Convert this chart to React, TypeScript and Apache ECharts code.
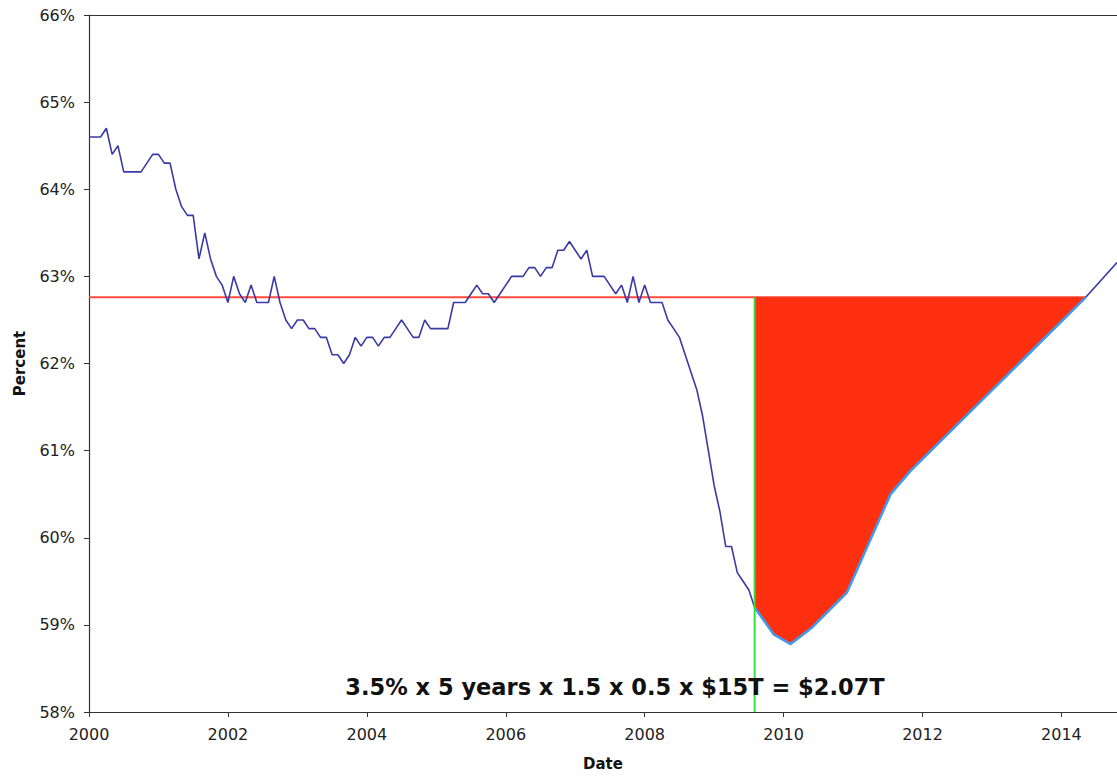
import React, { useEffect, useRef } from "react";
import * as echarts from "echarts";

// Monthly employment/population ratio, Jan 2000 .. Aug 2009 (percent)
const START_YEAR = 2000;
const actualValues = [
  64.6, 64.6, 64.6, 64.7, 64.4, 64.5, 64.2, 64.2, 64.2, 64.2, 64.3, 64.4,
  64.4, 64.3, 64.3, 64.0, 63.8, 63.7, 63.7, 63.2, 63.5, 63.2, 63.0, 62.9,
  62.7, 63.0, 62.8, 62.7, 62.9, 62.7, 62.7, 62.7, 63.0, 62.7, 62.5, 62.4,
  62.5, 62.5, 62.4, 62.4, 62.3, 62.3, 62.1, 62.1, 62.0, 62.1, 62.3, 62.2,
  62.3, 62.3, 62.2, 62.3, 62.3, 62.4, 62.5, 62.4, 62.3, 62.3, 62.5, 62.4,
  62.4, 62.4, 62.4, 62.7, 62.7, 62.7, 62.8, 62.9, 62.8, 62.8, 62.7, 62.8,
  62.9, 63.0, 63.0, 63.0, 63.1, 63.1, 63.0, 63.1, 63.1, 63.3, 63.3, 63.4,
  63.3, 63.2, 63.3, 63.0, 63.0, 63.0, 62.9, 62.8, 62.9, 62.7, 63.0, 62.7,
  62.9, 62.7, 62.7, 62.7, 62.5, 62.4, 62.3, 62.1, 61.9, 61.7, 61.4, 61.0,
  60.6, 60.3, 59.9, 59.9, 59.6, 59.5, 59.4, 59.2,
];

// Projected recovery path (decimal year, percent)
const projectionDates = [2009.583, 2009.86, 2010.1, 2010.41, 2010.91, 2011.54, 2011.83, 2014.35];
const projectionValues = [59.2, 58.89, 58.78, 58.97, 59.37, 60.5, 60.77, 62.76];
const tailDates = [2014.8];
const tailValues = [63.16];

const baselineValue = 62.76; // pre-recession level
const markerDate = 2009.583; // last observed month
const yTicks = { min: 58, max: 66, interval: 1 };
const xRange = { min: 2000, max: 2014.8, interval: 2 };
const annotation = "3.5% x 5 years x 1.5 x 0.5 x $15T = $2.07T";

const FONT = "'DejaVu Sans', Verdana, sans-serif";

export default function App() {
  const ref = useRef<HTMLDivElement>(null);

  useEffect(() => {
    if (!ref.current) return;
    const chart = echarts.init(ref.current, undefined, { renderer: "svg" });

    const actual = actualValues.map((v, i) => [START_YEAR + i / 12, v]);
    const projection = projectionDates.map((d, i) => [d, projectionValues[i]]);
    const tail = tailDates.map((d, i) => [d, tailValues[i]]);
    const navy = [...actual, ...projection.slice(1), ...tail];

    chart.setOption({
      animation: false,
      backgroundColor: "#ffffff",
      grid: { left: 89, right: 0, top: 15, bottom: 64, containLabel: false },
      xAxis: [
        {
          type: "value",
          min: xRange.min,
          max: xRange.max,
          interval: xRange.interval,
          name: "Date",
          nameLocation: "middle",
          nameGap: 44,
          nameTextStyle: { fontFamily: FONT, fontWeight: "bold", fontSize: 15, color: "#111" },
          axisLine: { show: true, lineStyle: { color: "#333", width: 1.2 } },
          axisTick: { show: true, length: 5, inside: false, lineStyle: { color: "#333" } },
          axisLabel: {
            fontFamily: FONT,
            fontSize: 16,
            color: "#222",
            margin: 14,
            showMaxLabel: false,
            formatter: (v: number) => (Math.abs(v - Math.round(v)) < 1e-6 && Math.round(v) % 2 === 0 ? String(Math.round(v)) : ""),
          },
          splitLine: { show: false },
        },
        {
          type: "value",
          position: "top",
          min: xRange.min,
          max: xRange.max,
          axisLine: { show: true, lineStyle: { color: "#333", width: 1.2 } },
          axisTick: { show: false },
          axisLabel: { show: false },
          splitLine: { show: false },
        },
      ],
      yAxis: {
        type: "value",
        min: yTicks.min,
        max: yTicks.max,
        interval: yTicks.interval,
        name: "Percent",
        nameLocation: "middle",
        nameGap: 62,
        nameTextStyle: { fontFamily: FONT, fontWeight: "bold", fontSize: 15, color: "#111" },
        axisLine: { show: true, lineStyle: { color: "#333", width: 1.2 } },
        axisTick: { show: true, length: 5, inside: false, lineStyle: { color: "#333" } },
        axisLabel: {
          fontFamily: FONT,
          fontSize: 16,
          color: "#222",
          margin: 14,
          formatter: (v: number) => `${v}%`,
        },
        splitLine: { show: false },
      },
      series: [
        {
          type: "line",
          name: "baseline",
          data: [
            [xRange.min, baselineValue],
            [projectionDates[projectionDates.length - 1], baselineValue],
          ],
          symbol: "none",
          lineStyle: { color: "#ff4a3d", width: 2 },
          z: 2,
        },
        {
          type: "line",
          name: "ratio",
          data: navy,
          symbol: "none",
          lineStyle: { color: "#3a3aa6", width: 1.6 },
          z: 3,
        },
        {
          type: "line",
          name: "projection",
          data: projection,
          symbol: "none",
          lineStyle: { color: "#3d9bf0", width: 2.5 },
          areaStyle: { color: "#ff3010", opacity: 1, origin: baselineValue },
          z: 4,
        },
        {
          type: "line",
          name: "marker",
          data: [
            [markerDate, yTicks.min],
            [markerDate, baselineValue],
          ],
          symbol: "none",
          lineStyle: { color: "#33e040", width: 2 },
          z: 5,
        },
      ],
      graphic: [
        {
          type: "text",
          x: 615,
          y: 687,
          z: 10,
          style: {
            text: annotation,
            fontFamily: FONT,
            fontWeight: "bold",
            fontSize: 22.5,
            fill: "#111",
            align: "center",
            verticalAlign: "middle",
          },
        },
      ],
    });

    return () => chart.dispose();
  }, []);

  return (
    <div
      ref={ref}
      style={{ position: "absolute", left: 0, top: 0, width: 1117, height: 776 }}
    />
  );
}
